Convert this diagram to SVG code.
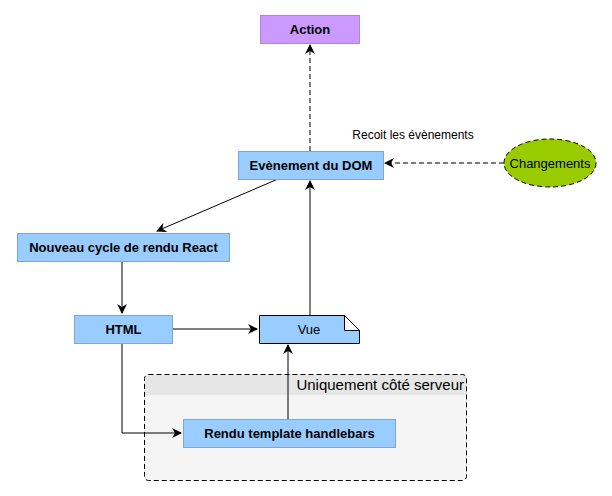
<svg xmlns="http://www.w3.org/2000/svg" width="612" height="496" viewBox="0 0 612 496">
<style>
.box{fill:#99ccff;stroke:#7ea6d0;stroke-width:1}
.t{font-family:"Liberation Sans",Arial,sans-serif;font-size:13px;fill:#000}
.b{font-weight:bold}
.c{fill:none;stroke:#000;stroke-width:1}
.d{stroke-dasharray:5 3}
</style>
<defs>
<marker id="ah" viewBox="0 0 10 10" refX="9" refY="5" markerWidth="10" markerHeight="10" markerUnits="userSpaceOnUse" orient="auto">
<path d="M0,0 L10,5 L0,10 L3,5 Z" fill="#000"/>
</marker>
</defs>
<rect width="612" height="496" fill="#fff"/>
<g id="group-serveur">
<rect x="144.5" y="374.5" width="322" height="106" rx="4" fill="#f5f5f5"/>
<path d="M148.5,374.5 H462.5 A4,4 0 0 1 466.5,378.5 V395 H144.5 V378.5 A4,4 0 0 1 148.5,374.5 Z" fill="#e6e6e6"/>
<rect x="144.5" y="374.5" width="322" height="106" rx="4" fill="none" stroke="#000" stroke-dasharray="5 3"/>
<text class="t" x="464" y="390" text-anchor="end" style="font-size:15px">Uniquement côté serveur</text>
</g>
<g id="connectors">
<path class="c d" d="M310,151 V45" marker-end="url(#ah)"/>
<path class="c d" d="M504,163 H385" marker-end="url(#ah)"/>
<path class="c" d="M278,179 L157,231" marker-end="url(#ah)"/>
<path class="c" d="M122,261 V313" marker-end="url(#ah)"/>
<path class="c" d="M173,329 H257" marker-end="url(#ah)"/>
<path class="c" d="M310,315 V181" marker-end="url(#ah)"/>
<path class="c" d="M122,343 V433 H181" marker-end="url(#ah)"/>
<path class="c" d="M288,419 V345" marker-end="url(#ah)"/>
</g>
<g id="label-recoit">
<text class="t" x="413" y="139" text-anchor="middle" style="font-size:12px">Recoit les évènements</text>
</g>
<g id="action">
<rect x="260.5" y="15.5" width="99" height="28" fill="#cc99ff" stroke="#b085e0"/>
<text class="t b" x="310" y="34" text-anchor="middle">Action</text>
</g>
<g id="dom">
<rect class="box" x="238.5" y="151.5" width="145" height="28"/>
<text class="t b" x="311" y="170" text-anchor="middle">Evènement du DOM</text>
</g>
<g id="changements">
<ellipse cx="550" cy="163" rx="46" ry="24" fill="#99cc00" stroke="#000" stroke-dasharray="5 3"/>
<text class="t" x="550" y="168" text-anchor="middle">Changements</text>
</g>
<g id="nouveau">
<rect class="box" x="17.5" y="233.5" width="212" height="28"/>
<text class="t b" x="123.5" y="252" text-anchor="middle">Nouveau cycle de rendu React</text>
</g>
<g id="html">
<rect class="box" x="74.5" y="315.5" width="98" height="28"/>
<text class="t b" x="123.5" y="334" text-anchor="middle">HTML</text>
</g>
<g id="vue">
<path d="M259.5,315.5 H344.5 L359.5,330.5 V343.5 H259.5 Z" fill="#99ccff" stroke="#000"/>
<path d="M344.5,315.5 V330.5 H359.5" fill="#fff" stroke="#000"/>
<path d="M344.5,315.5 L359.5,330.5" fill="none" stroke="#000"/>
<text class="t" x="309" y="334" text-anchor="middle">Vue</text>
</g>
<g id="rendu">
<rect class="box" x="183.5" y="419.5" width="212" height="28"/>
<text class="t b" x="289.5" y="438" text-anchor="middle">Rendu template handlebars</text>
</g>
</svg>
